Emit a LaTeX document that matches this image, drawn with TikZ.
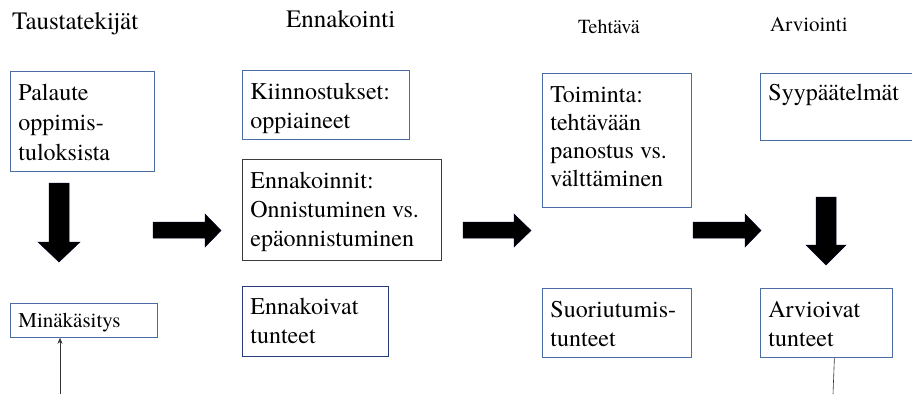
\documentclass[tikz,border=0pt]{standalone}
\usepackage{fontspec}
\setmainfont{TeX Gyre Termes}
\newfontfamily\tms{TeX Gyre Termes}
\usetikzlibrary{arrows.meta}
\definecolor{bblue}{RGB}{76,108,164}
\definecolor{navy}{RGB}{40,60,125}
\definecolor{dgray}{RGB}{60,60,60}
\newcommand{\boxtxt}[4]{\begin{minipage}[t][#2][t]{#1}\vspace{0pt}\raggedright\leftskip=8pt\rule{0pt}{#3}#4\end{minipage}}
\tikzset{
  box/.style={draw=bblue, line width=0.8pt, anchor=north west, inner sep=0pt, font=\tms\fontsize{24}{29}\selectfont},
  ttl/.style={anchor=base west, inner sep=0pt},
  blockarrow/.style={fill=black, draw=black!85!blue, line width=0.5pt},
  thin/.style={draw=black!80, line width=0.6pt}
}
\begin{document}
\begin{tikzpicture}[x=1pt,y=-1pt]
\useasboundingbox (0,0) rectangle (912,394);
% titles
\node[ttl, font=\tms\fontsize{25}{30}\selectfont] (t1) at (12,29) {Taustatekijät};
\node[ttl, font=\tms\fontsize{25}{30}\selectfont] (t2) at (286,27) {Ennakointi};
\node[ttl, font=\tms\fontsize{20}{24}\selectfont] (t3) at (578,33) {Tehtävä};
\node[ttl, font=\tms\fontsize{21}{25}\selectfont] (t4) at (770,31) {Arviointi};
% boxes
\node[box] (pal) at (10,71) {\boxtxt{144pt}{100pt}{29pt}{\baselineskip=30pt Palaute\\oppimis-\\tuloksista}};
\node[box] (kii) at (242,70) {\boxtxt{167pt}{69pt}{29pt}{Kiinnostukset:\\oppiaineet}};
\node[box, draw=dgray] (enn) at (242,159) {\boxtxt{199pt}{101pt}{29pt}{Ennakoinnit:\\Onnistuminen vs.\\epäonnistuminen}};
\node[box, draw=navy] (ent) at (242,286) {\boxtxt{146pt}{70pt}{28pt}{Ennakoivat\\tunteet}};
\node[box, font=\tms\fontsize{21}{25}\selectfont] (min) at (10,303) {\boxtxt{147pt}{34pt}{24pt}{Minäkäsitys}};
\node[box] (toi) at (542,73) {\boxtxt{149pt}{134pt}{29pt}{\baselineskip=28pt Toiminta:\\tehtävään\\panostus vs.\\välttäminen}};
\node[box] (syy) at (760,73) {\boxtxt{160pt}{67pt}{27pt}{Syypäätelmät}};
\node[box] (suo) at (542,288) {\boxtxt{149pt}{69pt}{29pt}{Suoriutumis-\\tunteet}};
\node[box] (arv) at (760,288) {\boxtxt{132pt}{69pt}{29pt}{Arvioivat\\tunteet}};
% block arrows
\draw[blockarrow] (49,183) -- (69,183) -- (69,242) -- (80,242) -- (59,262) -- (38,242) -- (49,242) -- cycle;
\draw[blockarrow] (816,197) -- (836,197) -- (836,245) -- (846,245) -- (826,265) -- (806,245) -- (816,245) -- cycle;
\draw[blockarrow] (153,222) -- (205,222) -- (205,214) -- (221,230.5) -- (205,247) -- (205,238) -- (153,238) -- cycle;
\draw[blockarrow] (463,222) -- (514,222) -- (514,214) -- (531,230.5) -- (514,247) -- (514,238) -- (463,238) -- cycle;
\draw[blockarrow] (693,222) -- (745,222) -- (745,214) -- (761,230.5) -- (745,247) -- (745,238) -- (693,238) -- cycle;
% thin connectors
\coordinate (minin) at (60,394);
\coordinate (arvout) at (833,394);
\draw[thin, -{Stealth[length=6pt,width=5pt]}] (minin) -- (min.south -| minin);
\draw[thin] ([xshift=8pt]arv.south) -- (arvout);
\end{tikzpicture}
\end{document}
